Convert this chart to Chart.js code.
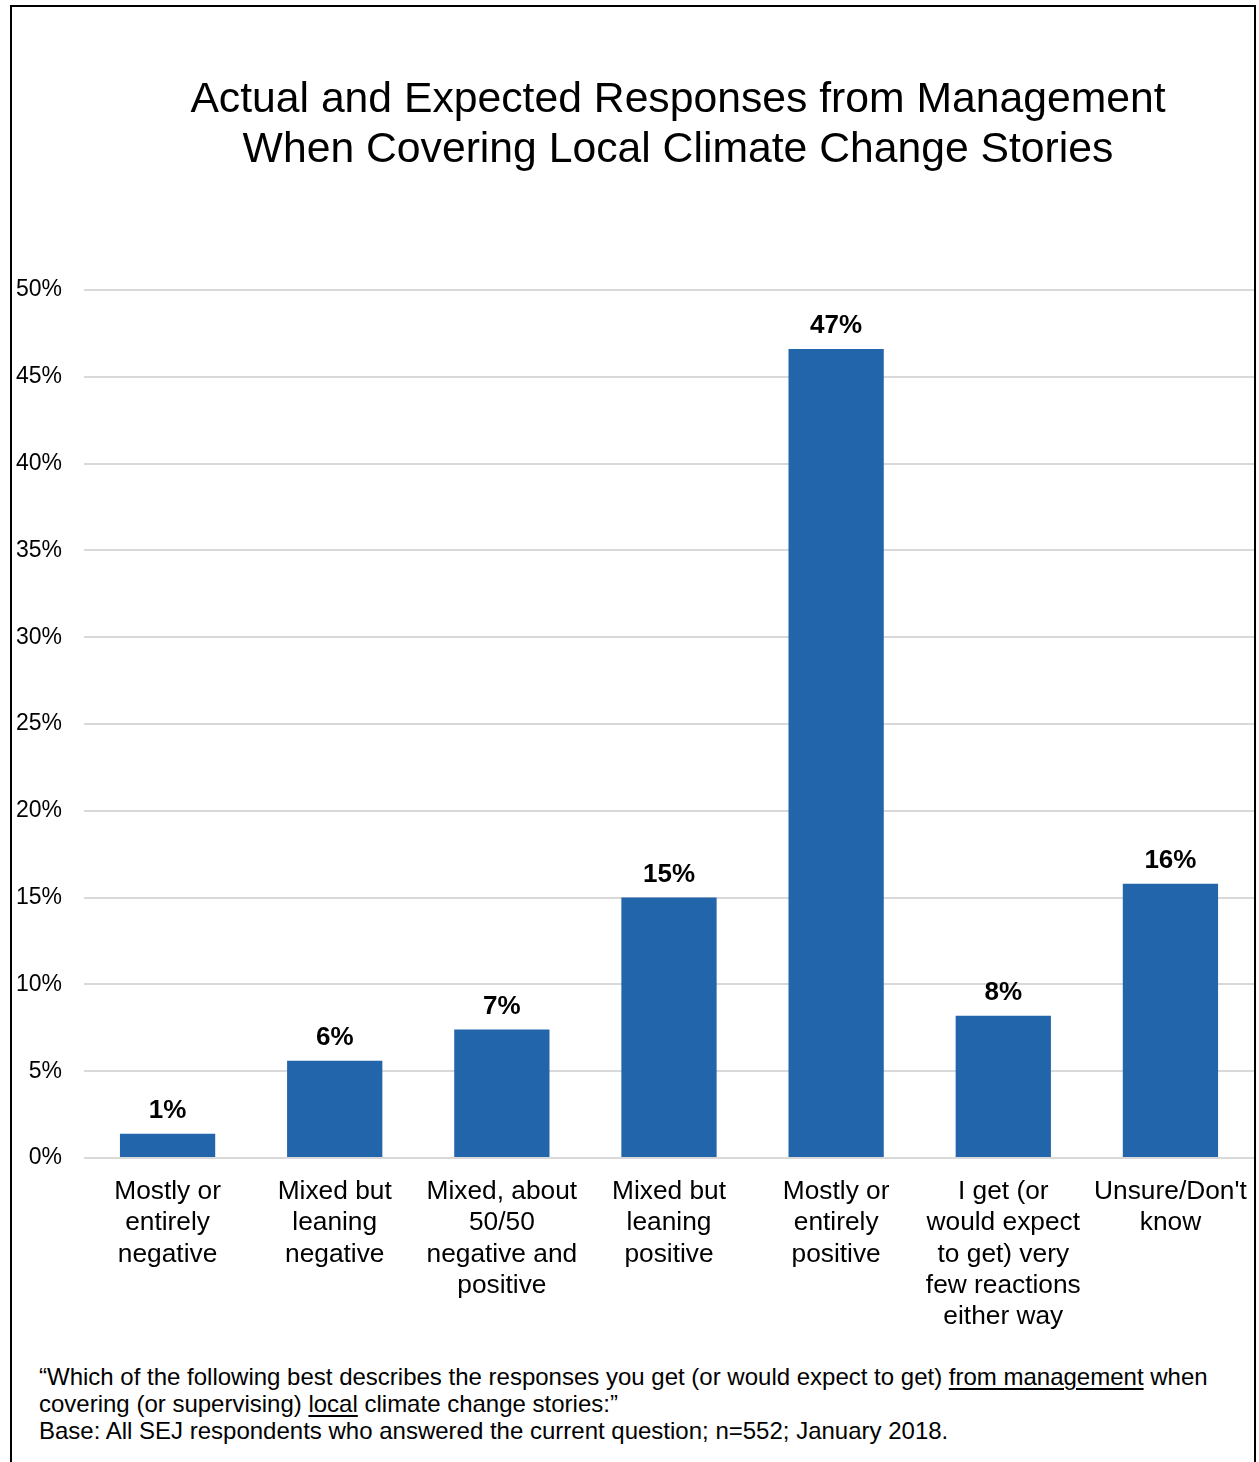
<!DOCTYPE html>
<html>
<head>
<meta charset="utf-8">
<script src="https://cdn.jsdelivr.net/npm/chart.js@4/dist/chart.umd.min.js"></script>
<style>
  html, body { margin: 0; padding: 0; overflow: hidden; background: #fff; }
  body { width: 1259px; height: 1462px; position: relative; font-family: "Liberation Sans", Arial, sans-serif; }
  #frame { position: absolute; left: 10px; top: 5px; width: 1242px; height: 1470px; border: 2px solid #000; border-bottom: none; }
  #chart { position: absolute; left: 0; top: 0; }
  #note { position: absolute; left: 39px; top: 1363px; font-size: 24px; line-height: 27px; color: #000; white-space: nowrap; }
  #note u { text-decoration-thickness: 1.5px; text-underline-offset: 3px; }
</style>
</head>
<body>
<div id="frame"></div>
<canvas id="chart" width="1259" height="1360"></canvas>
<div id="note">“Which of the following best describes the responses you get (or would expect to get) <u>from management</u> when<br>covering (or supervising) <u>local</u> climate change stories:”<br>Base: All SEJ respondents who answered the current question; n=552; January 2018.</div>
<script>
const titleLines = ['Actual and Expected Responses from Management', 'When Covering Local Climate Change Stories'];

const categories = [
    ['Mostly or', 'entirely', 'negative'],
    ['Mixed but', 'leaning', 'negative'],
    ['Mixed, about', '50/50', 'negative and', 'positive'],
    ['Mixed but', 'leaning', 'positive'],
    ['Mostly or', 'entirely', 'positive'],
    ['I get (or', 'would expect', 'to get) very', 'few reactions', 'either way'],
    ["Unsure/Don't", 'know']
];
const values = [1.4, 5.6, 7.4, 15.0, 46.6, 8.2, 15.8];
const valueLabels = ['1%', '6%', '7%', '15%', '47%', '8%', '16%'];

const fontFamily = '"Liberation Sans", Arial, sans-serif';

// title drawn by hand so it can sit slightly right of the plot centre, like the original
const titlePlugin = {
    id: 'bigTitle',
    afterDraw(chart) {
        const ctx = chart.ctx;
        ctx.save();
        ctx.font = '42.7px ' + fontFamily;
        ctx.fillStyle = '#000';
        ctx.textAlign = 'center';
        ctx.textBaseline = 'alphabetic';
        titleLines.forEach((line, i) => ctx.fillText(line, 678, 112 + i * 50));
        ctx.restore();
    }
};

// bold percentage above each bar
const valueLabelPlugin = {
    id: 'valueLabels',
    afterDatasetsDraw(chart) {
        const ctx = chart.ctx;
        const meta = chart.getDatasetMeta(0);
        ctx.save();
        ctx.font = 'bold 26px ' + fontFamily;
        ctx.fillStyle = '#000';
        ctx.textAlign = 'center';
        ctx.textBaseline = 'alphabetic';
        meta.data.forEach((bar, i) => ctx.fillText(valueLabels[i], bar.x, bar.y - 16));
        ctx.restore();
    }
};

const ctx = document.getElementById('chart').getContext('2d');

new Chart(ctx, {
    type: 'bar',
    data: {
        labels: categories,
        datasets: [{
            data: values,
            backgroundColor: '#2365aa',
            borderWidth: 0,
            categoryPercentage: 1,
            barPercentage: 0.57
        }]
    },
    options: {
        responsive: false,
        animation: false,
        devicePixelRatio: 1,
        layout: { padding: { top: 290, right: 5, left: 0, bottom: 0 } },
        plugins: {
            legend: { display: false },
            tooltip: { enabled: false }
        },
        scales: {
            x: {
                grid: { display: false },
                border: { display: false },
                ticks: {
                    color: '#000',
                    font: { family: fontFamily, size: 26.3, lineHeight: 1.19 },
                    padding: 10,
                    autoSkip: false,
                    maxRotation: 0,
                    minRotation: 0
                },
                afterFit: (scale) => {
                    scale.height = 202;
                    scale.paddingLeft = 0;
                    scale.paddingRight = 0;
                }
            },
            y: {
                min: 0,
                max: 50,
                grid: { color: '#d9d9d9', lineWidth: 2, drawTicks: false },
                border: { display: false },
                ticks: {
                    stepSize: 5,
                    color: '#000',
                    font: { family: fontFamily, size: 23 },
                    padding: 22,
                    callback: (v) => v + '%'
                },
                afterFit: (scale) => { scale.width = 84; }
            }
        }
    },
    plugins: [titlePlugin, valueLabelPlugin]
});
</script>
</body>
</html>
